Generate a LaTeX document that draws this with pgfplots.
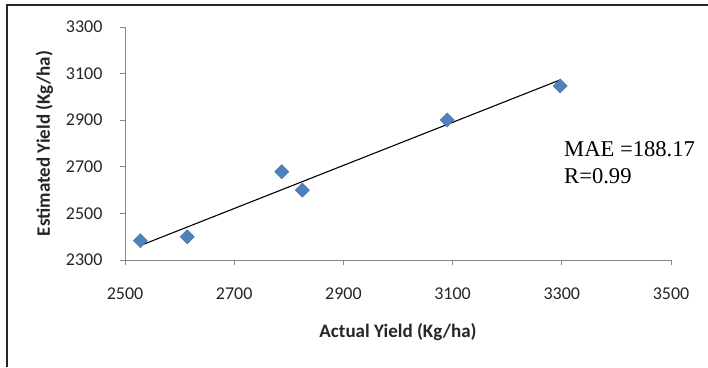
\documentclass[border=0pt]{standalone}
\usepackage{pgfplots}
\pgfplotsset{compat=1.18}
\usepackage{fontspec}
\setmainfont{Carlito}
\newfontfamily\timesfont{Liberation Serif}
\definecolor{axgray}{HTML}{868686}
\definecolor{ptblue}{HTML}{4F81BD}
\begin{document}
\begin{tikzpicture}[x=1pt,y=1pt]
\useasboundingbox (0,0) rectangle (708,367);
\fill[white] (0,0) rectangle (708,367);
\begin{axis}[
  at={(125pt,107pt)}, anchor=south west,
  scale only axis, width=546pt, height=233pt,
  xmin=2500, xmax=3500, ymin=2300, ymax=3300,
  xtick={2500,2700,...,3500}, ytick={2300,2500,...,3300},
  axis x line=bottom, axis y line=left,
  axis line style={-, draw=axgray, line width=0.9pt},
  tick style={draw=axgray, line width=0.9pt},
  tick align=outside, major tick length=5pt,
  /pgf/number format/assume math mode=true,
  /pgf/number format/1000 sep={},
  tick label style={font=\fontsize{18}{20}\selectfont, text=black!85},
  xticklabel style={anchor=north, yshift=-19pt},
  yticklabel style={anchor=east, xshift=-14pt},
  xlabel={Actual Yield (Kg/ha)},
  ylabel={Estimated Yield (Kg/ha)},
  label style={font=\bfseries\fontsize{19}{21}\selectfont, text=black!85},
  xlabel style={at={(axis description cs:0.5,-0.3305)}, anchor=base},
  ylabel style={at={(axis description cs:-0.1374,0.5)}, anchor=base},
  clip=false,
]
\addplot[black, line width=1.1pt] coordinates {(2528,2362) (3297,3073)};
\addplot[only marks, mark=square*, mark size=5pt,
  mark options={rotate=45, fill=ptblue, draw=ptblue!85!black, line width=0.4pt}]
  coordinates {(2528,2383) (2614,2400) (2787,2679) (2825,2600) (3090,2901) (3297,3047)};
\end{axis}
\draw[black!85, line width=1.6pt] (7,0) -- (7,362) -- (708,362);
\node[anchor=base west, inner sep=0, font=\timesfont\fontsize{22.6}{26}\selectfont] at (564,210) {MAE =188.17};
\node[anchor=base west, inner sep=0, font=\timesfont\fontsize{22.6}{26}\selectfont] at (564,183) {R=0.99};
\end{tikzpicture}
\end{document}
